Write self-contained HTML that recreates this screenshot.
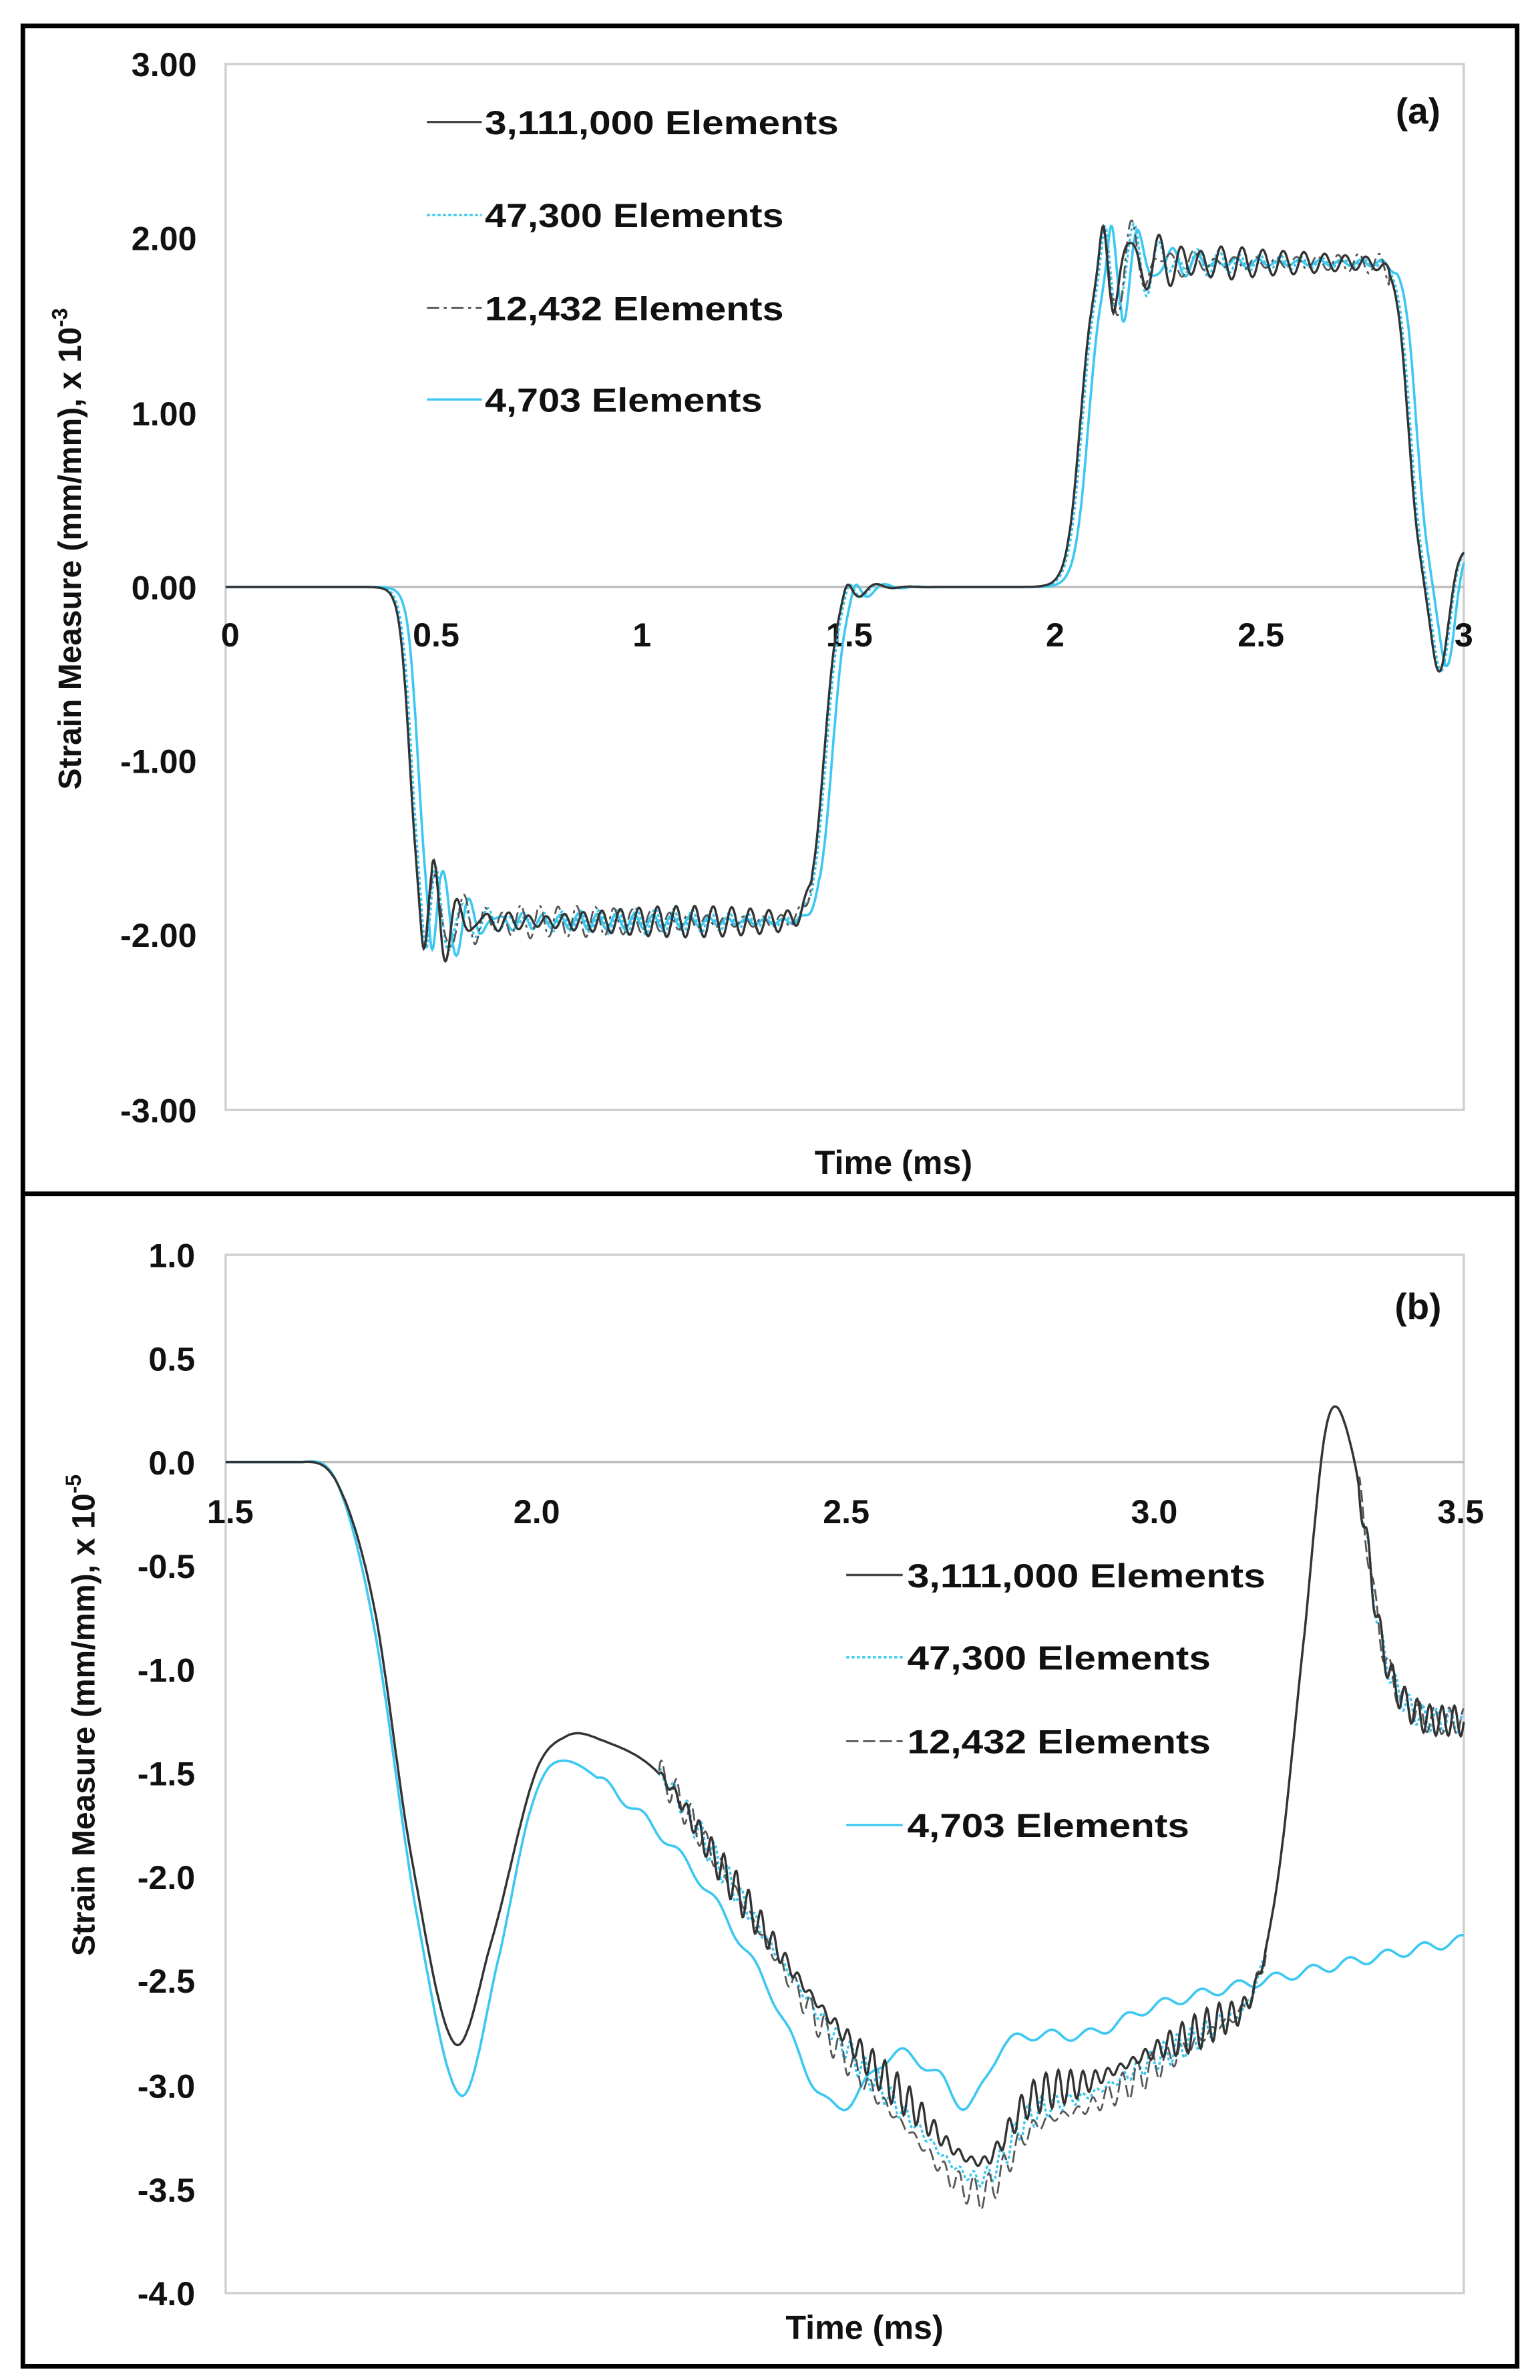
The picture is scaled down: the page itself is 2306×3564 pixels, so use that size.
<!DOCTYPE html>
<html><head><meta charset="utf-8"><style>
html,body{margin:0;padding:0;background:#fff}
svg{display:block}
text{font-family:"Liberation Sans",Arial,sans-serif;font-weight:bold;fill:#111}
</style></head><body>
<svg id="s" width="2306" height="3564" viewBox="0 0 1010 1561" preserveAspectRatio="none" xmlns="http://www.w3.org/2000/svg">
<rect x="15" y="17" width="980" height="1535" fill="none" stroke="#000" stroke-width="3"/>
<line x1="15" y1="783" x2="995" y2="783" stroke="#000" stroke-width="3"/>
<rect x="148" y="42" width="812" height="686" fill="none" stroke="#cfcfcf" stroke-width="1.5"/>
<line x1="148" y1="385" x2="960" y2="385" stroke="#bdbdbd" stroke-width="1.5"/>
<g font-size="22" text-anchor="end">
<text x="129" y="50">3.00</text><text x="129" y="164">2.00</text><text x="129" y="279">1.00</text>
<text x="129" y="393">0.00</text><text x="129" y="507">-1.00</text><text x="129" y="621">-2.00</text><text x="129" y="736">-3.00</text>
</g>
<g font-size="22" text-anchor="middle">
<text x="151" y="424">0</text><text x="286" y="424">0.5</text><text x="421" y="424">1</text><text x="557" y="424">1.5</text>
<text x="692" y="424">2</text><text x="827" y="424">2.5</text><text x="960" y="424">3</text>
<text x="586" y="770" font-size="22">Time (ms)</text>
<text x="930" y="81" font-size="24">(a)</text>
</g>
<text transform="translate(53,360) rotate(-90)" text-anchor="middle" font-size="21">Strain Measure (mm/mm), x 10<tspan dy="-9" font-size="14">-3</tspan></text>
<rect x="148" y="823" width="812" height="681" fill="none" stroke="#cfcfcf" stroke-width="1.5"/>
<line x1="148" y1="959" x2="960" y2="959" stroke="#bdbdbd" stroke-width="1.5"/>
<g font-size="22" text-anchor="end">
<text x="128" y="831">1.0</text><text x="128" y="899">0.5</text><text x="128" y="967">0.0</text>
<text x="128" y="1035">-0.5</text><text x="128" y="1103">-1.0</text><text x="128" y="1171">-1.5</text>
<text x="128" y="1239">-2.0</text><text x="128" y="1307">-2.5</text><text x="128" y="1376">-3.0</text>
<text x="128" y="1444">-3.5</text><text x="128" y="1512">-4.0</text>
</g>
<g font-size="22" text-anchor="middle">
<text x="151" y="999">1.5</text><text x="352" y="999">2.0</text><text x="555" y="999">2.5</text>
<text x="757" y="999">3.0</text><text x="958" y="999">3.5</text>
<text x="567" y="1534">Time (ms)</text>
<text x="930" y="865" font-size="24">(b)</text>
</g>
<text transform="translate(62,1125) rotate(-90)" text-anchor="middle" font-size="21">Strain Measure (mm/mm), x 10<tspan dy="-9" font-size="14">-5</tspan></text>
<g id="curves" fill="none"></g>
<g font-size="22">
<line x1="280" y1="80" x2="316" y2="80" stroke="#444" stroke-width="1.5"/><text x="318" y="88" textLength="232" lengthAdjust="spacingAndGlyphs">3,111,000 Elements</text>
<line x1="280" y1="141" x2="316" y2="141" stroke="#3cc8f0" stroke-width="1.5" stroke-dasharray="2,1.5"/><text x="318" y="149" textLength="196" lengthAdjust="spacingAndGlyphs">47,300 Elements</text>
<line x1="280" y1="202" x2="316" y2="202" stroke="#555" stroke-width="1.2" stroke-dasharray="8,3,2,3"/><text x="318" y="210" textLength="196" lengthAdjust="spacingAndGlyphs">12,432 Elements</text>
<line x1="280" y1="262" x2="316" y2="262" stroke="#3cc8f0" stroke-width="1.5"/><text x="318" y="270" textLength="182" lengthAdjust="spacingAndGlyphs">4,703 Elements</text>
<line x1="555" y1="1033" x2="592" y2="1033" stroke="#444" stroke-width="1.5"/><text x="595" y="1041" textLength="235" lengthAdjust="spacingAndGlyphs">3,111,000 Elements</text>
<line x1="555" y1="1087" x2="592" y2="1087" stroke="#3cc8f0" stroke-width="1.5" stroke-dasharray="2,1.5"/><text x="595" y="1095" textLength="199" lengthAdjust="spacingAndGlyphs">47,300 Elements</text>
<line x1="555" y1="1142" x2="592" y2="1142" stroke="#555" stroke-width="1.2" stroke-dasharray="8,3"/><text x="595" y="1150" textLength="199" lengthAdjust="spacingAndGlyphs">12,432 Elements</text>
<line x1="555" y1="1197" x2="592" y2="1197" stroke="#3cc8f0" stroke-width="1.5"/><text x="595" y="1205" textLength="185" lengthAdjust="spacingAndGlyphs">4,703 Elements</text>
</g>
</svg>
<script>
(function(){
var g=document.getElementById('curves');
function S(t,t0,w){return 1/(1+Math.exp(-(t-t0)/w));}
function ring(t,t1,a,tau,p,ph){var d=t-t1;var on=S(t,t1,0.006);return on*a*Math.exp(-Math.max(d,0)/tau)*Math.cos(2*Math.PI*Math.max(d,0)/p+ph);}
function fa(t,sh,ph,na){
 var v=-1.92*S(t,0.445+sh,0.012)+1.92*S(t,1.45+sh,0.016)+1.86*S(t,2.07+sh,0.016)-1.86*S(t,2.865+sh,0.014);
 v+=ring(t,0.475+sh,-0.45,0.07,0.06+ph*0.003,0)+ (t>0.5+sh&&t<1.42+sh? na*Math.sin(2*Math.PI*t/0.045+ph)*(1+0.5*Math.sin(t*7+ph)):0);
 v+=ring(t,1.5+sh,0.12,0.04,0.08,0);
 v+=ring(t,2.12+sh,0.45,0.08,0.07+ph*0.003,0)+(t>2.15+sh&&t<2.82+sh? na*Math.sin(2*Math.PI*t/0.05+ph)*(1+0.5*Math.sin(t*6+ph)):0);
 v+=-0.5*Math.exp(-Math.pow((t-2.94-sh)/0.028,2))+0.22*S(t,2.975,0.01);
 return v;}
function path(f,x0,sx,y0,sy,t0,t1,stroke,w,dash){
 var d='',n=1600;for(var i=0;i<=n;i++){var t=t0+(t1-t0)*i/n;var x=x0+(t-t0)*sx,y=y0-f(t)*sy;d+=(i?'L':'M')+x.toFixed(1)+' '+y.toFixed(1);}
 var p=document.createElementNS('http://www.w3.org/2000/svg','path');p.setAttribute('d',d);p.setAttribute('stroke',stroke);p.setAttribute('stroke-width',w);if(dash)p.setAttribute('stroke-dasharray',dash);g.appendChild(p);}
var C='#3cc8f0';
path(function(t){return fa(t,0.02,1.5,0.03);},148,270.7,385,114.3,0,3,C,1.6);
path(function(t){return fa(t,0.005,0.8,0.05);},148,270.7,385,114.3,0,3,C,1.5,'2,1.5');
path(function(t){return fa(t,0,2.2,0.06);},148,270.7,385,114.3,0,3,'#555',1.2,'8,3,2,3');
path(function(t){return fa(t,0,0,0.06);},148,270.7,385,114.3,0,3,'#333',1.5);
function interp(p){return function(t){var n=p.length;if(t<=p[0][0])return p[0][1];if(t>=p[n-1][0])return p[n-1][1];
 for(var i=0;i<n-1;i++){if(t<=p[i+1][0]){var a=p[Math.max(0,i-1)],b=p[i],c=p[i+1],d=p[Math.min(n-1,i+2)];
 var h=c[0]-b[0],u=(t-b[0])/h;var m1=(c[1]-a[1])/(c[0]-a[0]||1)*h,m2=(d[1]-b[1])/(d[0]-b[0]||1)*h;
 if(i<=1){m1=0;if(i==0)m2=0;}var u2=u*u,u3=u2*u;return Math.min(0.3,(2*u3-3*u2+1)*b[1]+(u3-2*u2+u)*m1+(-2*u3+3*u2)*c[1]+(u3-u2)*m2);}}};}
var main=[[1.5,0],[1.62,0],[1.68,-0.1],[1.74,-0.7],[1.8,-1.9],[1.87,-2.8],[1.93,-2.3],[2.0,-1.5],[2.05,-1.32],[2.1,-1.33],[2.2,-1.5],[2.3,-1.95],[2.45,-2.6],[2.6,-3.1],[2.72,-3.4],[2.8,-3.1],[2.9,-3.0],[3.0,-2.85],[3.1,-2.7],[3.16,-2.55],[3.2,-2.0],[3.24,-0.9],[3.28,0.2],[3.32,0.05],[3.37,-0.9],[3.42,-1.2],[3.5,-1.25]];
function mk(pts,dy,amp,per,ph){var f=interp(pts);return function(t){var v=f(t);
 if(t>2.2&&t<3.18)v+=amp*Math.sin(2*Math.PI*t/per+ph)*(0.6+0.4*Math.sin(t*25+ph));
 if(t>3.33)v+=amp*0.8*Math.sin(2*Math.PI*t/per+ph);
 if(t>2.3&&t<3.15)v+=dy*Math.sin(Math.PI*(t-2.3)/0.85);return v;};}
var f4=interp([[1.5,0],[1.62,0],[1.68,-0.1],[1.74,-0.8],[1.81,-2.2],[1.88,-3.05],[1.94,-2.4],[1.99,-1.7],[2.03,-1.45],[2.1,-1.52],[2.25,-1.95],[2.37,-2.5],[2.48,-3.1],[2.58,-2.85],[2.65,-2.95],[2.7,-3.1],[2.76,-2.8],[2.9,-2.75],[3.0,-2.62],[3.25,-2.45],[3.5,-2.3]]);
path(function(t){return f4(t)+(t>2.1?0.025*Math.sin(2*Math.PI*t/0.06):0);},148,406,959,136.2,1.5,3.5,C,1.6);
path(mk(main,-0.05,0.07,0.022,1),148,406,959,136.2,1.5,3.5,C,1.5,'2,1.5');
path(mk(main,-0.12,0.08,0.024,2.5),148,406,959,136.2,1.5,3.5,'#555',1.2,'8,3');
path(mk(main,0.03,0.09,0.02,0),148,406,959,136.2,1.5,3.5,'#333',1.5);
})();
</script>
</body></html>
